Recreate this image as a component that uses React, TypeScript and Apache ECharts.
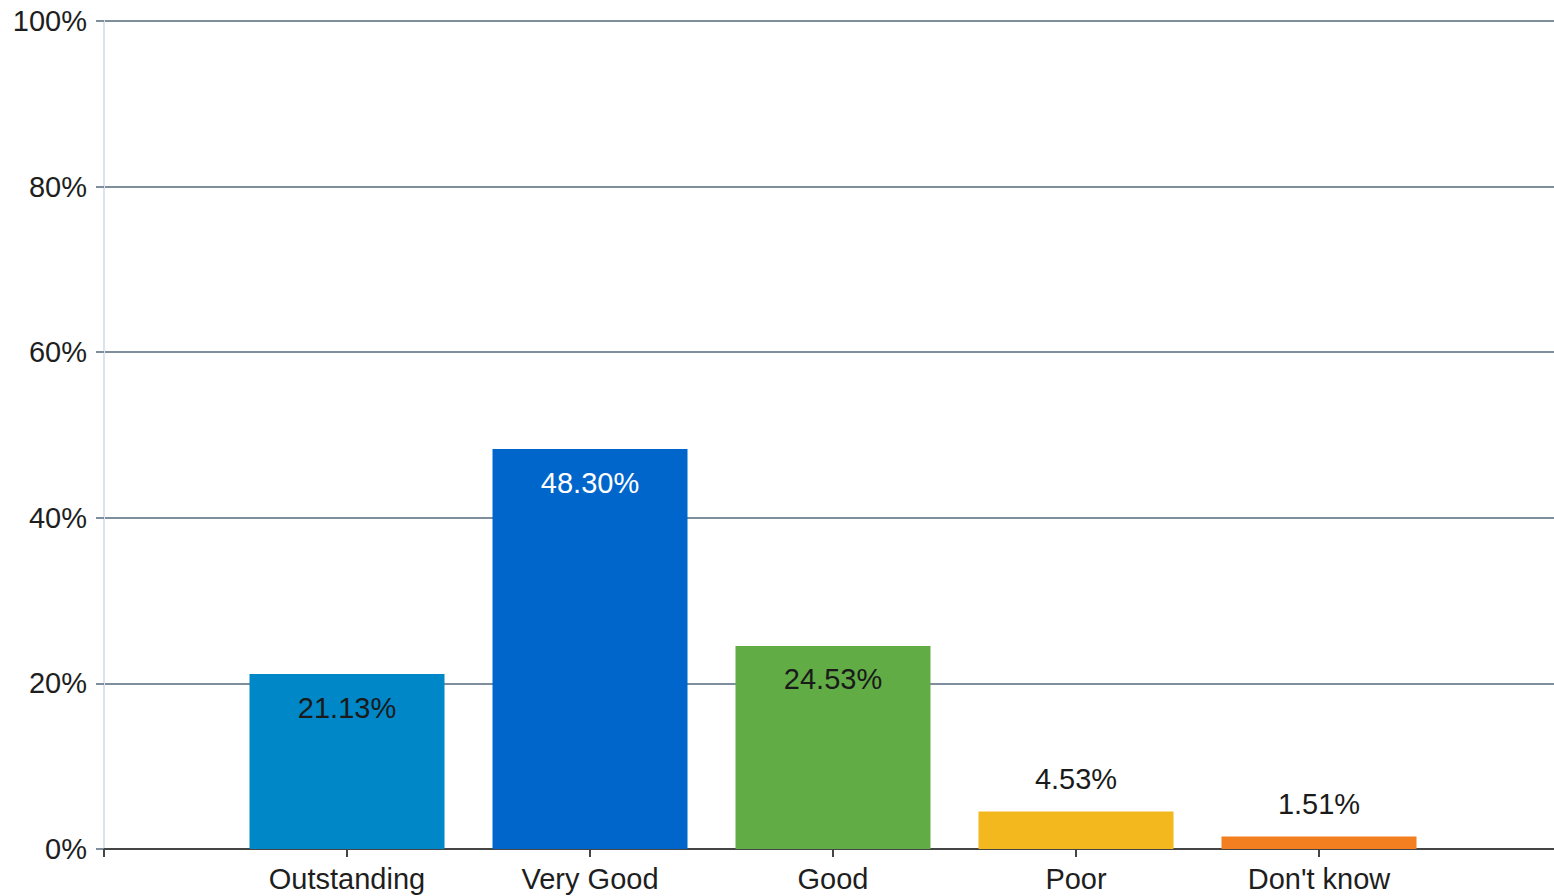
import React, { useEffect, useRef } from "react";
import * as echarts from "echarts";

const categories = ["Outstanding", "Very Good", "Good", "Poor", "Don't know"];
const values = [21.13, 48.3, 24.53, 4.53, 1.51];
const barColors = ["#0087C7", "#0066CC", "#62AC46", "#F2B81E", "#F47F21"];
const labelInside = [true, true, true, false, false];
const labelColors = ["#1a1a1a", "#ffffff", "#1a1a1a", "#1a1a1a", "#1a1a1a"];
const yTicks = [0, 20, 40, 60, 80, 100];

export default function App() {
  const ref = useRef<HTMLDivElement>(null);
  useEffect(() => {
    if (!ref.current) return;
    const chart = echarts.init(ref.current, undefined, { renderer: "svg" });
    const font = "'Liberation Sans', Arial, sans-serif";
    const axisData = ["", ...categories, ""];
    const seriesData: any[] = [null];
    values.forEach((v, i) => {
      seriesData.push({
        value: v,
        itemStyle: { color: barColors[i] },
        label: {
          show: true,
          position: labelInside[i] ? "insideTop" : "top",
          distance: labelInside[i] ? 19 : 18,
          color: labelColors[i],
          fontSize: 29,
          fontFamily: font,
          formatter: (p: any) => Number(p.value).toFixed(2) + "%",
        },
      });
    });
    seriesData.push(null);
    chart.setOption({
      animation: false,
      backgroundColor: "#ffffff",
      grid: { left: 104, top: 21, width: 1458, height: 828, containLabel: false },
      xAxis: {
        type: "category",
        data: axisData,
        boundaryGap: false,
        axisLine: { show: true, lineStyle: { color: "#454545", width: 2 } },
        axisTick: { show: true, interval: 0, length: 8, lineStyle: { color: "#454545", width: 2 } },
        axisLabel: { interval: 0, fontSize: 29, fontFamily: font, color: "#1e1e1e", margin: 15 },
        splitLine: { show: false },
      },
      yAxis: {
        type: "value",
        min: yTicks[0],
        max: yTicks[yTicks.length - 1],
        interval: 20,
        axisLine: { show: true, lineStyle: { color: "#dce3ee", width: 2 } },
        axisTick: { show: true, length: 8, lineStyle: { color: "#7f8e9c", width: 2 } },
        axisLabel: {
          fontSize: 29,
          fontFamily: font,
          color: "#1e1e1e",
          margin: 17,
          formatter: (v: number) => v + "%",
        },
        splitLine: { show: true, lineStyle: { color: "#7f8e9c", width: 2 } },
      },
      series: [
        {
          type: "bar",
          data: seriesData,
          barWidth: 195,
        },
      ],
    });
    return () => chart.dispose();
  }, []);
  return (
    <div
      style={{
        position: "absolute",
        left: 0,
        top: 0,
        width: 1554,
        height: 896,
        overflow: "hidden",
        background: "#ffffff",
      }}
    >
      <div ref={ref} style={{ width: 1620, height: 896 }} />
    </div>
  );
}
